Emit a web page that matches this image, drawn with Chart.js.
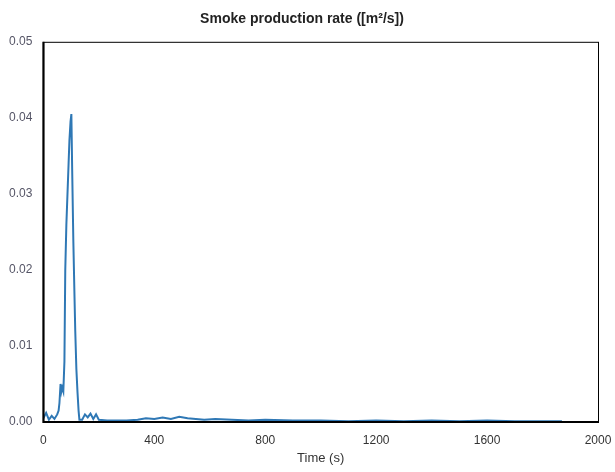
<!DOCTYPE html><html><head><script src="https://cdn.jsdelivr.net/npm/chart.js@4"></script>
<style>body{margin:0;background:#fff}#w{width:615px;height:472px}</style></head><body><div id="w"><canvas id="c"></canvas></div>
<script>
const times=[0,10,20,30,40,50,55,58,62,65,68,72,76,79,83,87,91,94,98,101,104,108,112,115,119,123,127,130,140,150,160,170,180,190,200,230,260,300,340,370,400,430,460,490,520,550,580,620,680,740,800,900,1000,1100,1200,1300,1400,1500,1600,1700,1800,1870];
const smoke=[0.0005,0.0012,0.0003,0.0008,0.0004,0.0010,0.0015,0.0025,0.0050,0.0040,0.0045,0.0040,0.0080,0.0200,0.0260,0.0300,0.0340,0.0370,0.0395,0.0405,0.0330,0.0240,0.0170,0.0120,0.0070,0.0040,0.0015,0.0003,0.0003,0.0010,0.0006,0.0011,0.0004,0.0010,0.0003,0.0002,0.0002,0.0002,0.0003,0.0005,0.0004,0.0006,0.0004,0.0007,0.0005,0.0004,0.0003,0.0004,0.0003,0.0002,0.0003,0.0002,0.0002,0.0001,0.0002,0.0001,0.0002,0.0001,0.0002,0.0001,0.0001,0.0001];
const xTicks=[0,400,800,1200,1600,2000];
const border={id:'b',afterDraw(c){const a=c.chartArea,x=c.ctx;x.save();x.strokeStyle='#000';x.lineWidth=1;x.strokeRect(a.left+.5,a.top+.5,a.width,a.height);x.lineWidth=2;x.beginPath();x.moveTo(a.left,a.top);x.lineTo(a.left,a.bottom);x.lineTo(a.right,a.bottom);x.stroke();x.restore();}};
new Chart(document.getElementById('c'),{type:'line',data:{datasets:[{data:times.map((t,i)=>({x:t,y:smoke[i]})),borderColor:'#2f78b5',borderWidth:2,pointRadius:0,tension:0}]},
options:{animation:false,responsive:true,maintainAspectRatio:false,layout:{padding:{left:6,right:17,top:7,bottom:2}},
plugins:{legend:{display:false},title:{display:true,text:'Smoke production rate ([m²/s])',color:'#222',font:{family:'Liberation Sans',size:14,weight:'bold'},padding:{top:4,bottom:14}}},
scales:{x:{type:'linear',min:0,max:2000,afterBuildTicks:s=>{s.ticks=xTicks.map(v=>({value:v}))},grid:{display:false},border:{display:false},ticks:{color:'#333',font:{family:'Liberation Sans',size:12},maxRotation:0,callback:v=>String(v)},title:{display:true,text:'Time (s)',color:'#333',font:{family:'Liberation Sans',size:13},padding:{top:0}}},
y:{min:0,max:0.05,ticks:{stepSize:0.01,color:'#556',font:{family:'Liberation Sans',size:12},callback:v=>v.toFixed(2)},grid:{display:false},border:{display:false}}}},plugins:[border]});
</script></body></html>
